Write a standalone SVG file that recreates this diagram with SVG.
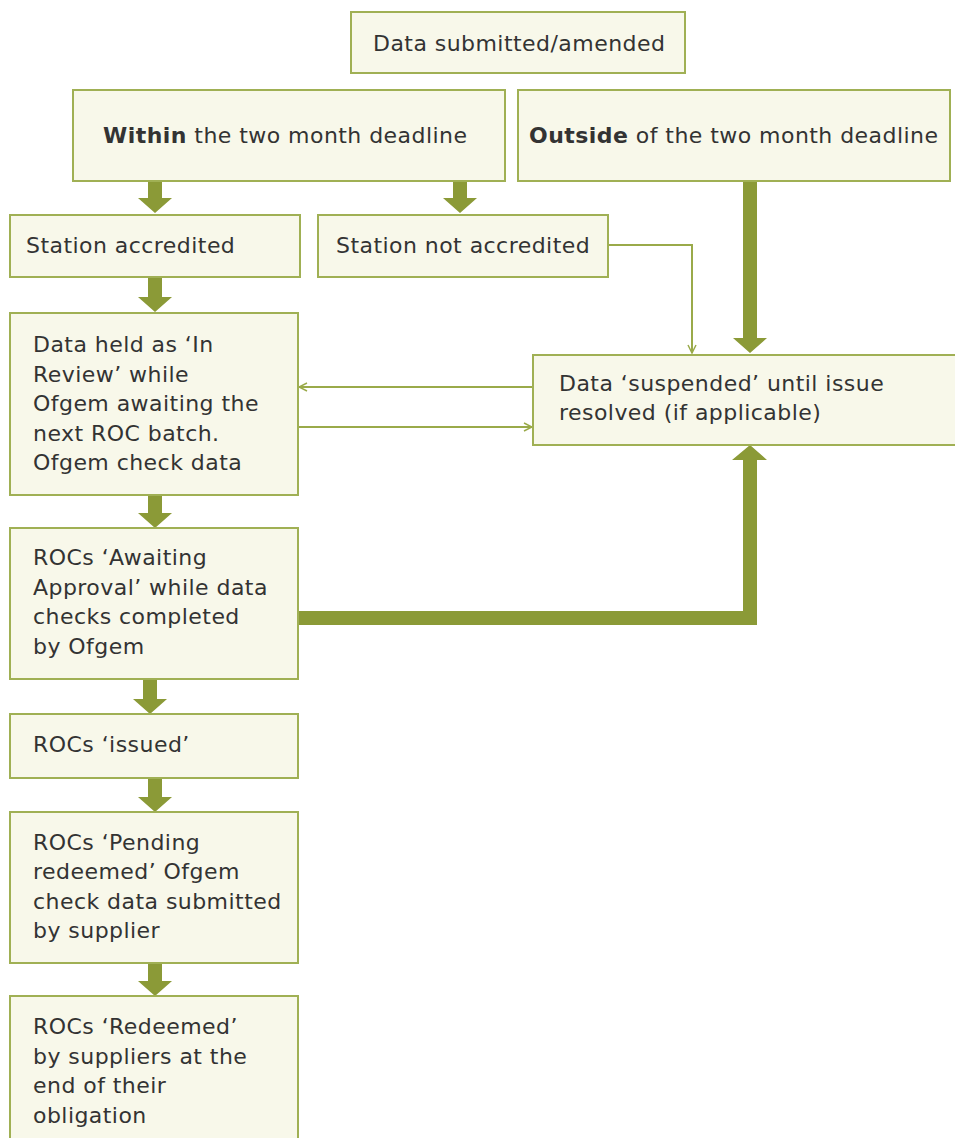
<svg xmlns="http://www.w3.org/2000/svg" width="955" height="1138" viewBox="0 0 955 1138">
<defs>
<style>
.box{fill:#f8f8ea;stroke:#a0b054;stroke-width:2}
.t{font-family:"DejaVu Sans",Verdana,sans-serif;font-size:22px;letter-spacing:0.45px;fill:#333333}
.b{font-weight:bold}
.thick{fill:#8b9a37}
.thin{fill:none;stroke:#9aaa4a;stroke-width:2;marker-end:url(#open)}
</style>
<marker id="open" viewBox="0 0 10 10" refX="9" refY="5" markerWidth="10" markerHeight="10" markerUnits="userSpaceOnUse" orient="auto">
<path d="M1,1 L9,5 L1,9" fill="none" stroke="#9aaa4a" stroke-width="1.5"/>
</marker>
</defs>
<rect width="955" height="1138" fill="#ffffff"/>

<g id="connectors">
<path class="thick" d="M148,181 H162 V198 H172 L155,213 L138,198 H148 Z"/>
<path class="thick" d="M453,181 H467 V198 H477 L460,213 L443,198 H453 Z"/>
<path class="thick" d="M743,181 H757 V338 H767 L750,353 L733,338 H743 Z"/>
<path class="thick" d="M148,277 H162 V297 H172 L155,312 L138,297 H148 Z"/>
<path class="thick" d="M148,495 H162 V513 H172 L155,528 L138,513 H148 Z"/>
<path class="thick" d="M143,679 H157 V699 H167 L150,714 L133,699 H143 Z"/>
<path class="thick" d="M148,778 H162 V797 H172 L155,812 L138,797 H148 Z"/>
<path class="thick" d="M148,963 H162 V981 H172 L155,996 L138,981 H148 Z"/>
<path class="thick" d="M298,611 H743 V460 H732 L750,445 L767,460 H757 V625 H298 Z"/>
<path class="thin" d="M608,245 H692 V353"/>
<path class="thin" d="M533,387 H299"/>
<path class="thin" d="M298,427 H532"/>
</g>

<g id="n-submitted">
<rect class="box" x="351" y="12" width="334" height="61"/>
<text class="t" x="373" y="51">Data submitted/amended</text>
</g>
<g id="n-within">
<rect class="box" x="73" y="90" width="432" height="91"/>
<text class="t" x="103" y="143"><tspan class="b">Within</tspan> the two month deadline</text>
</g>
<g id="n-outside">
<rect class="box" x="518" y="90" width="432" height="91"/>
<text class="t" x="529" y="143"><tspan class="b">Outside</tspan> of the two month deadline</text>
</g>
<g id="n-accredited">
<rect class="box" x="10" y="215" width="290" height="62"/>
<text class="t" x="26" y="253">Station accredited</text>
</g>
<g id="n-not-accredited">
<rect class="box" x="318" y="215" width="290" height="62"/>
<text class="t" x="336" y="253">Station not accredited</text>
</g>
<g id="n-held">
<rect class="box" x="10" y="313" width="288" height="182"/>
<text class="t" x="33" y="352">Data held as ‘In</text>
<text class="t" x="33" y="382">Review’ while</text>
<text class="t" x="33" y="411">Ofgem awaiting the</text>
<text class="t" x="33" y="441">next ROC batch.</text>
<text class="t" x="33" y="470">Ofgem check data</text>
</g>
<g id="n-suspended">
<rect class="box" x="533" y="355" width="440" height="90"/>
<text class="t" x="559" y="391">Data ‘suspended’ until issue</text>
<text class="t" x="559" y="420">resolved (if applicable)</text>
</g>
<g id="n-awaiting">
<rect class="box" x="10" y="528" width="288" height="151"/>
<text class="t" x="33" y="565">ROCs ‘Awaiting</text>
<text class="t" x="33" y="595">Approval’ while data</text>
<text class="t" x="33" y="624">checks completed</text>
<text class="t" x="33" y="654">by Ofgem</text>
</g>
<g id="n-issued">
<rect class="box" x="10" y="714" width="288" height="64"/>
<text class="t" x="33" y="752">ROCs ‘issued’</text>
</g>
<g id="n-pending">
<rect class="box" x="10" y="812" width="288" height="151"/>
<text class="t" x="33" y="850">ROCs ‘Pending</text>
<text class="t" x="33" y="879">redeemed’ Ofgem</text>
<text class="t" x="33" y="909">check data submitted</text>
<text class="t" x="33" y="938">by supplier</text>
</g>
<g id="n-redeemed">
<rect class="box" x="10" y="996" width="288" height="160"/>
<text class="t" x="33" y="1034">ROCs ‘Redeemed’</text>
<text class="t" x="33" y="1064">by suppliers at the</text>
<text class="t" x="33" y="1093">end of their</text>
<text class="t" x="33" y="1123">obligation</text>
</g>
</svg>
